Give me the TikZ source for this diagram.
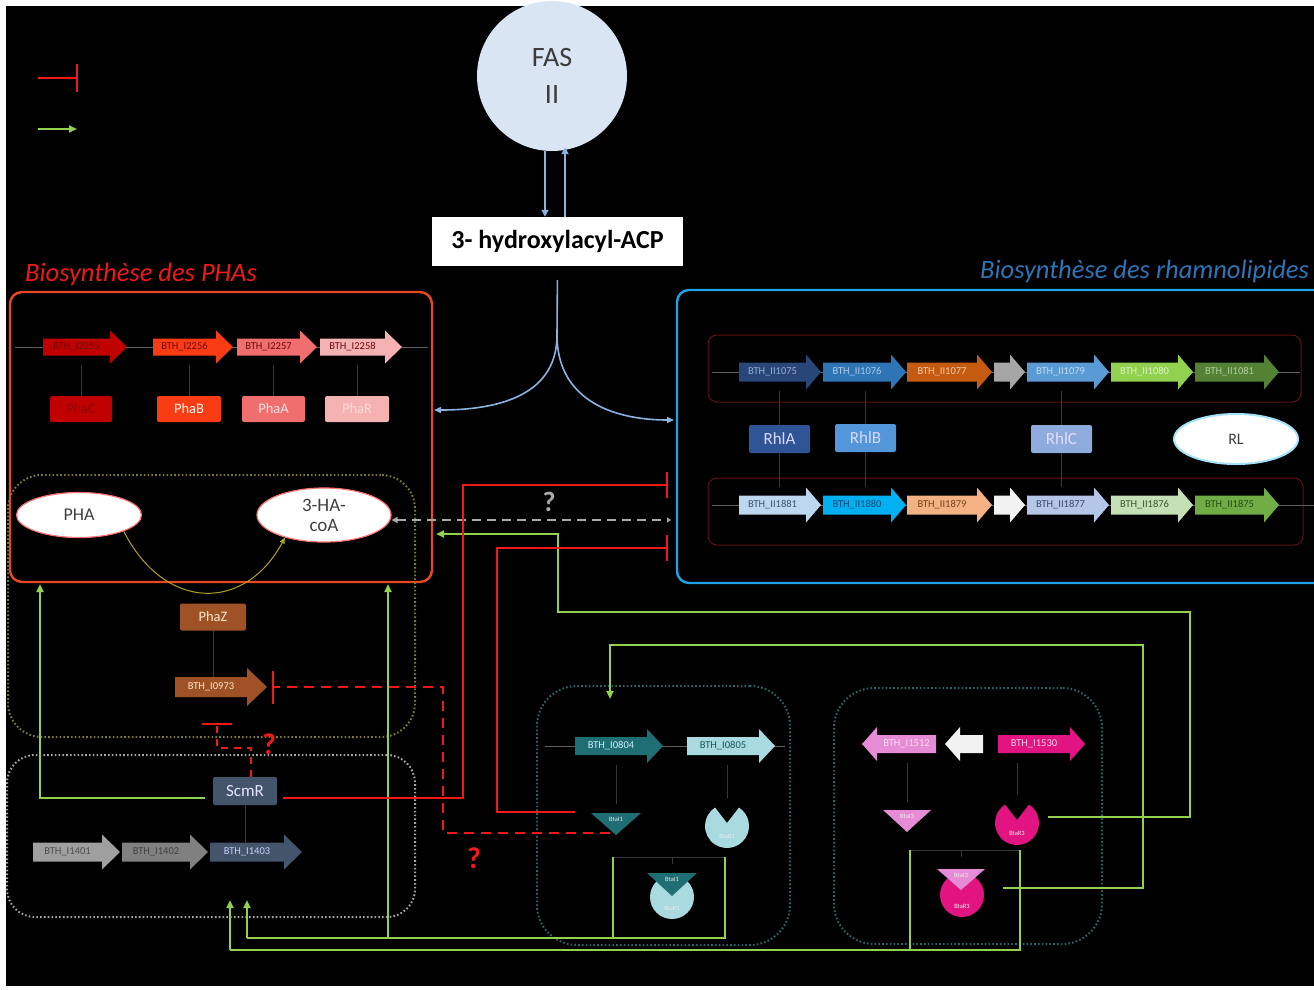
\documentclass[tikz,border=0pt]{standalone}
\usepackage{fontspec}
\setmainfont{Carlito}
\usetikzlibrary{arrows.meta,shapes.geometric}

% palette
\definecolor{lgreen}{RGB}{146,208,80}
\definecolor{rred}{RGB}{240,25,25}
\definecolor{phaorange}{RGB}{232,72,32}
\definecolor{rhlblue}{RGB}{30,162,228}
\definecolor{fasblue}{RGB}{218,229,243}
\definecolor{fastext}{RGB}{60,60,60}
\definecolor{fasarrow}{RGB}{140,178,225}
\definecolor{olivedot}{RGB}{125,120,60}
\definecolor{olivearc}{RGB}{175,160,40}
\definecolor{graydot}{RGB}{165,165,165}
\definecolor{tealdot}{RGB}{45,100,105}
\definecolor{operonred}{RGB}{95,18,18}
\definecolor{axisgray}{RGB}{95,95,95}
\definecolor{qgray}{RGB}{170,170,170}
\definecolor{phaC}{RGB}{192,0,0}
\definecolor{phaB}{RGB}{250,60,20}
\definecolor{phaA}{RGB}{240,110,110}
\definecolor{phaR}{RGB}{245,178,178}
\definecolor{phaTxt}{RGB}{110,10,10}
\definecolor{brownZ}{RGB}{158,82,38}
\definecolor{slate}{RGB}{68,84,106}
\definecolor{teal}{RGB}{31,110,115}
\definecolor{lcyan}{RGB}{168,218,224}
\definecolor{orchid}{RGB}{230,140,214}
\definecolor{magenta}{RGB}{226,20,130}
% rhamnolipid operon colours
\definecolor{cT1}{RGB}{40,70,120}   \definecolor{xT1}{RGB}{150,175,210}
\definecolor{cT2}{RGB}{46,117,182}  \definecolor{xT2}{RGB}{175,205,235}
\definecolor{cT3}{RGB}{197,90,17}   \definecolor{xT3}{RGB}{245,205,165}
\definecolor{cT4}{RGB}{166,166,166}
\definecolor{cT5}{RGB}{91,155,213}  \definecolor{xT5}{RGB}{195,220,242}
\definecolor{cT6}{RGB}{146,208,80}  \definecolor{xT6}{RGB}{220,242,195}
\definecolor{cT7}{RGB}{84,130,53}   \definecolor{xT7}{RGB}{175,205,155}
\definecolor{cB1}{RGB}{189,215,238} \definecolor{xB1}{RGB}{60,80,110}
\definecolor{cB2}{RGB}{0,176,240}   \definecolor{xB2}{RGB}{20,70,120}
\definecolor{cB3}{RGB}{244,177,131} \definecolor{xB3}{RGB}{115,65,25}
\definecolor{cB4}{RGB}{242,242,242}
\definecolor{cB5}{RGB}{180,199,231} \definecolor{xB5}{RGB}{60,70,100}
\definecolor{cB6}{RGB}{197,224,180} \definecolor{xB6}{RGB}{60,85,50}
\definecolor{cB7}{RGB}{112,173,71}  \definecolor{xB7}{RGB}{40,75,20}
\definecolor{rhlA}{RGB}{47,85,151}
\definecolor{rhlB}{RGB}{84,150,218}
\definecolor{rhlC}{RGB}{143,170,220}
\definecolor{titleblue}{RGB}{46,117,182}

\newcommand{\gBody}{9}
\newcommand{\gHead}{17}
\newcommand{\gTip}{15}

% gene drawn as a right-pointing block arrow: name, x1, x2, y, fill, text colour, label
\newcommand{\gene}[7]{%
  \fill[fill=#5] (#2,#4-\gBody) -- ({#3-\gTip},#4-\gBody) -- ({#3-\gTip},#4-\gHead) -- (#3,#4)
    -- ({#3-\gTip},#4+\gHead) -- ({#3-\gTip},#4+\gBody) -- (#2,#4+\gBody) -- cycle;
  \node[genetxt, text=#6, minimum width={#3-\gTip-#2}, minimum height={2*\gBody}]
    (#1) at ({(#2+#3-\gTip)/2},#4) {#7};}
% gene pointing left: name, tip x, tail x, y, fill, text colour, label
\newcommand{\generev}[7]{%
  \fill[fill=#5] (#3,#4-\gBody) -- ({#2+\gTip},#4-\gBody) -- ({#2+\gTip},#4-\gHead) -- (#2,#4)
    -- ({#2+\gTip},#4+\gHead) -- ({#2+\gTip},#4+\gBody) -- (#3,#4+\gBody) -- cycle;
  \node[genetxt, text=#6, minimum width={#3-\gTip-#2}, minimum height={2*\gBody}]
    (#1) at ({(#2+\gTip+#3)/2},#4) {#7};}
% autoinducer synthase (inverted triangle): name, cx, top y, half width, height, fill, label
\newcommand{\synth}[7]{%
  \fill[fill=#6] ({#2-#4},#3) -- ({#2+#4},#3) -- (#2,#3+#5) -- cycle;
  \node[tinytxt] (#1) at (#2,#3+6) {#7};}
% receptor (notched disc): name, cx, cy, fill, label
\newcommand{\recep}[5]{%
  \fill[fill=#4] (#2,#3) ++(-57:22) arc[start angle=-57, end angle=237, radius=22] -- (#2,#3-3) -- cycle;
  \node[tinytxt] (#1) at (#2,#3+10) {#5};}

\tikzset{
  genetxt/.style={inner sep=0pt, outer sep=0pt, font=\fontsize{10.5}{11}\selectfont},
  tinytxt/.style={inner sep=0pt, text=white!85!gray, font=\fontsize{6.5}{7}\selectfont},
  prot/.style={rounded corners=2pt, inner sep=0pt, minimum height=26pt, font=\fontsize{14.5}{15}\selectfont},
  frame/.style={line width=2.4pt, rounded corners=12pt, inner sep=0pt},
  dotbox/.style={line width=2pt, dash pattern=on 1.6pt off 2.2pt, inner sep=0pt},
  operon/.style={draw=operonred, line width=1pt, rounded corners=9pt, inner sep=0pt},
  axis/.style={draw=axisgray, line width=0.6pt},
  link/.style={draw=gray!45!black, line width=0.6pt},
  metab/.style={ellipse, fill=white, inner sep=0pt, text=black!75, font=\fontsize{18}{20}\selectfont},
  activ/.style={draw=lgreen, line width=2.2pt, -{Triangle[length=8pt,width=7pt]}},
  gline/.style={draw=lgreen, line width=2.2pt},
  inhib/.style={draw=rred, line width=2.4pt, -{Bar[width=26pt,line width=2.4pt]}},
  rdash/.style={dash pattern=on 10pt off 7pt},
  fasarr/.style={draw=fasarrow, line width=1.8pt, -{Triangle[length=7pt,width=7pt]}},
  qmark/.style={inner sep=0pt, font=\bfseries\fontsize{30}{30}\selectfont},
  title/.style={anchor=base west, inner sep=0pt, font=\itshape\fontsize{26.5}{28}\selectfont}
}

\begin{document}
\begin{tikzpicture}[x=1pt,y=-1pt]
\clip (0,0) rectangle (1314,990);
\fill[white] (0,0) rectangle (1314,990);
\fill[black] (6,6) rectangle (1314,986);

% ---------- legend ----------
\coordinate (legI1) at (38,78);  \coordinate (legI2) at (78,78);
\coordinate (legA1) at (38,129); \coordinate (legA2) at (77,129);
\draw[inhib, -{Bar[width=28pt,line width=2.4pt]}] (legI1) -- (legI2);
\draw[activ] (legA1) -- (legA2);

% ---------- FAS II and the shared precursor ----------
\node[circle, fill=fasblue, minimum size=150pt, inner sep=0pt, align=center, text=fastext,
      font=\fontsize{28}{37}\selectfont] (fas) at (552,76) {FAS\\II};
\node[fill=white, minimum width=251pt, minimum height=49pt, inner sep=0pt,
      font=\bfseries\fontsize{26}{28}\selectfont] (acp) at (557.5,241.5) {3- hydroxylacyl-ACP};
\coordinate (fasL) at ([xshift=-7pt]fas.south);
\coordinate (fasR) at ([xshift=13pt]fas.south);
\draw[fasarr] (fasL) -- (fasL |- acp.north);
\draw[fasarr, shorten >=-4pt] (fasR |- acp.north) -- (fasR);

% ---------- pathway frames ----------
\node[frame, draw=phaorange, minimum width=422pt, minimum height=290pt] (phabox) at (221,437) {};
\node[frame, draw=rhlblue, minimum width=663pt, minimum height=293pt] (rhlbox) at (1008.5,436.5) {};
\node[title, text=rred] (phatitle) at (25,281) {Biosynthèse des PHAs};
\node[title, text=titleblue] (rhltitle) at (980,278) {Biosynthèse des rhamnolipides};

% precursor split towards both pathways
\coordinate (split) at (557,335);
\coordinate (phaIn) at (434,410);
\coordinate (rhlIn) at (674,420);
\draw[draw=fasarrow, line width=1.6pt, shorten <=14pt] (acp.south) -- (split);
\draw[draw=fasarrow, line width=1.6pt, -{Triangle[length=7pt,width=6pt]}]
  (split) .. controls (557,392) and (505,410) .. (phaIn);
\draw[draw=fasarrow, line width=1.6pt, -{Triangle[length=7pt,width=6pt]}]
  (split) .. controls (557,398) and (610,420) .. (rhlIn);

% ---------- PHA operon ----------
\coordinate (phaAxL) at (15,347); \coordinate (phaAxR) at (428,347);
\draw[axis] (phaAxL) -- (phaAxR);
\renewcommand{\gBody}{8.5}\renewcommand{\gHead}{16.5}\renewcommand{\gTip}{17}
\gene{gC}{43}{127}{347}{phaC}{phaTxt}{BTH\_I2255}
\gene{gB}{153}{233}{347}{phaB}{phaTxt}{BTH\_I2256}
\gene{gA}{237}{317}{347}{phaA}{phaTxt}{BTH\_I2257}
\gene{gR}{320}{402}{347}{phaR}{phaTxt}{BTH\_I2258}
\node[prot, fill=phaC, text=phaTxt!80!red, minimum width=62pt] (pC) at (81,409) {PhaC};
\node[prot, fill=phaB, text=white!92!orange, minimum width=64pt] (pB) at (189,409) {PhaB};
\node[prot, fill=phaA, text=white!90!red, minimum width=63pt] (pA) at (273.5,409) {PhaA};
\node[prot, fill=phaR, text=white!85!red, minimum width=64pt] (pR) at (357,409) {PhaR};
\foreach \p/\g in {pC/gC, pB/gB, pA/gA, pR/gR}
  \draw[link] (\p.north |- \g.south) ++(0,9) -- (\p.north);

% ---------- PHA cycle ----------
\node[dotbox, draw=olivedot, rounded corners=34pt, minimum width=407pt, minimum height=262pt] (degbox) at (211.5,606) {};
\node[metab, draw=red!55!white, line width=1.2pt, minimum width=125pt, minimum height=45pt] (pha) at (79,515) {PHA};
\node[metab, draw=red!55!white, line width=1.2pt, minimum width=134pt, minimum height=54pt, align=center,
      font=\fontsize{19}{20}\selectfont] (hacoa) at (324,515) {3-HA-\\coA};
\draw[draw=olivearc, line width=1pt, -{Triangle[length=6pt,width=5pt]}]
  (pha.-20) .. controls (165,612) and (245,612) .. (hacoa.-150);
\node[prot, fill=brownZ, text=white!80!orange, minimum width=66pt, minimum height=27pt] (phaz) at (213,617) {PhaZ};
\renewcommand{\gBody}{10}\renewcommand{\gHead}{19}\renewcommand{\gTip}{20}
\gene{g0973}{175}{267}{687}{brownZ}{white!80!orange}{BTH\_I0973}
\draw[link] (phaz.south) -- (phaz.south |- g0973.north);

% ---------- ScmR locus ----------
\node[dotbox, draw=graydot, rounded corners=28pt, minimum width=408pt, minimum height=162pt] (scmbox) at (211,836) {};
\node[prot, fill=slate, text=white!90!blue, minimum width=64pt, minimum height=28pt,
      font=\fontsize{17}{18}\selectfont] (scmr) at (245,791) {ScmR};
\renewcommand{\gBody}{9.5}\renewcommand{\gHead}{17.5}\renewcommand{\gTip}{18}
\gene{g1401}{33}{120}{852}{gray!75!white}{black!70}{BTH\_I1401}
\gene{g1402}{122}{208}{852}{gray}{black!75}{BTH\_I1402}
\gene{g1403}{210}{302}{852}{slate}{white!80!blue}{BTH\_I1403}
\draw[link] (scmr.south) -- (scmr.south |- g1403.north);

% ---------- rhamnolipid operons ----------
\node[operon, minimum width=593pt, minimum height=67pt] (opTop) at (1004.5,368.5) {};
\node[operon, minimum width=595pt, minimum height=67pt] (opBot) at (1005.5,511.5) {};
\coordinate (topAxL) at (712,372); \coordinate (topAxR) at (1300,372);
\coordinate (botAxL) at (712,505); \coordinate (botAxR) at (1314,505);
\draw[axis] (topAxL) -- (topAxR);
\draw[axis] (botAxL) -- (botAxR);
\renewcommand{\gBody}{9.5}\renewcommand{\gHead}{17.5}\renewcommand{\gTip}{15}
\gene{t1}{739}{821}{372}{cT1}{xT1}{BTH\_II1075}
\gene{t2}{823}{906}{372}{cT2}{xT2}{BTH\_II1076}
\gene{t3}{907}{992}{372}{cT3}{xT3}{BTH\_II1077}
\gene{t4}{994}{1025}{372}{cT4}{black}{}
\gene{t5}{1027}{1109}{372}{cT5}{xT5}{BTH\_II1079}
\gene{t6}{1111}{1193}{372}{cT6}{xT6}{BTH\_II1080}
\gene{t7}{1195}{1279}{372}{cT7}{xT7}{BTH\_II1081}
\gene{b1}{739}{821}{505}{cB1}{xB1}{BTH\_II1881}
\gene{b2}{823}{906}{505}{cB2}{xB2}{BTH\_II1880}
\gene{b3}{907}{992}{505}{cB3}{xB3}{BTH\_II1879}
\gene{b4}{994}{1025}{505}{cB4}{black}{}
\gene{b5}{1027}{1109}{505}{cB5}{xB5}{BTH\_II1877}
\gene{b6}{1111}{1193}{505}{cB6}{xB6}{BTH\_II1876}
\gene{b7}{1195}{1279}{505}{cB7}{xB7}{BTH\_II1875}

\node[prot, fill=rhlA, text=white!85!blue, minimum width=61pt, minimum height=28pt,
      font=\fontsize{17}{18}\selectfont] (rhla) at (779.5,439) {RhlA};
\node[prot, fill=rhlB, text=white!85!blue, minimum width=61pt, minimum height=28pt,
      font=\fontsize{17}{18}\selectfont] (rhlb) at (865.5,438) {RhlB};
\node[prot, fill=rhlC, text=white!88!blue, minimum width=61pt, minimum height=28pt,
      font=\fontsize{17}{18}\selectfont] (rhlc) at (1061.5,439) {RhlC};
\node[metab, draw=cyan!35!white, line width=2pt, minimum width=124pt, minimum height=50pt,
      font=\fontsize{16}{17}\selectfont] (rl) at (1236,439) {RL};
\foreach \p/\u/\d in {rhla/t1/b1, rhlb/t2/b2, rhlc/t5/b5}{
  \draw[link] (\p.north |- \u.south) ++(0,9) -- (\p.north);
  \draw[link] (\p.south) -- ([yshift=9pt]\p.south |- \d.north);
}

% exchange of 3-HA-coA with the rhamnolipid pathway (unresolved)
\coordinate (qEnd) at (671,520);
\draw[draw=qgray, line width=1.8pt, dash pattern=on 9pt off 6pt,
      {Triangle[length=6pt,width=6pt]}-{Triangle[length=4pt,width=5pt]}]
  (qEnd -| hacoa.east) -- (qEnd);
\node[qmark, text=qgray, font=\bfseries\fontsize{28}{28}\selectfont] (qmid) at (549,502) {?};

% ---------- Bta1 quorum-sensing system ----------
\node[dotbox, draw=tealdot, rounded corners=40pt, minimum width=253pt, minimum height=259pt] (bta1box) at (663.5,815.5) {};
\coordinate (ax1L) at (545,746); \coordinate (ax1R) at (785,746);
\draw[axis] (ax1L) -- (ax1R);
\renewcommand{\gBody}{9}\renewcommand{\gHead}{17}\renewcommand{\gTip}{16}
\gene{g0804}{575}{663}{746}{teal}{white!80!cyan}{BTH\_I0804}
\gene{g0805}{687}{775}{746}{lcyan}{teal!80!black}{BTH\_I0805}
\synth{bI1}{616}{813}{25}{22}{teal}{BtaI1}
\recep{bR1}{727}{826}{lcyan}{BtaR1}
\draw[link] (bI1 |- g0804.south) ++(0,10) -- ([yshift=2pt]bI1 |- 0,806);
\draw[link] (bR1 |- g0805.south) ++(0,10) -- ([yshift=2pt]bR1 |- 0,800);
\fill[lcyan] (672,897) circle[radius=22];
\synth{cI1}{672}{873}{25}{23}{teal}{BtaI1}
\node[tinytxt] (cR1) at (672,908) {BtaR1};

% ---------- Bta3 quorum-sensing system ----------
\node[dotbox, draw=tealdot, rounded corners=40pt, minimum width=268pt, minimum height=256pt] (bta3box) at (968,816) {};
\renewcommand{\gBody}{9}\renewcommand{\gHead}{17}\renewcommand{\gTip}{15}
\generev{g1512}{862}{936}{744}{orchid}{white!85!magenta}{BTH\_I1512}
\generev{gmid}{945}{983}{744}{white!90!gray}{black}{}
\gene{g1530}{998}{1085}{744}{magenta}{white!80!magenta}{BTH\_I1530}
\synth{bI3}{907}{810}{24}{22}{orchid}{BtaI3}
\recep{bR3}{1017}{823}{magenta}{BtaR3}
\draw[link] (bI3 |- g1512.south) ++(0,10) -- ([yshift=2pt]bI3 |- 0,804);
\draw[link] (bR3 |- g1530.south) ++(0,10) -- ([yshift=2pt]bR3 |- 0,797);
\fill[magenta] (962,895) circle[radius=22];
\synth{cI3}{961}{869}{24}{21}{orchid}{BtaI3}
\node[tinytxt] (cR3) at (962,906) {BtaR3};

% complex formation brackets
\coordinate (m1L) at (613,857); \coordinate (m1R) at (725,857);
\coordinate (m3L) at (910,850); \coordinate (m3R) at (1020,850);
\draw[link] (m1L) -- (m1R);
\draw[link] (cI1 |- m1L) -- ([yshift=-7pt]cI1 |- m1L);
\draw[link] (m3L) -- (m3R);
\draw[link] (cI3 |- m3L) -- ([yshift=-7pt]cI3 |- m3L);

% ---------- activations ----------
\coordinate (scmrL) at ([yshift=-7pt]scmr.west);
\coordinate (scmrR) at ([yshift=-7pt]scmr.east);
\coordinate (gPhaL) at (40,584);
\draw[activ, shorten <=8pt] (scmrL) -| (gPhaL);

\coordinate (bus1L) at (247,938); \coordinate (bus1R) at (725,938);
\coordinate (a247) at (247,900);
\coordinate (tap388) at (388,938); \coordinate (gPhaR) at (388,584);
\draw[gline] (m1R) -- (bus1R) -- (bus1L);
\draw[gline] (m1L) -- (m1L |- bus1R);
\draw[activ] (bus1L) -- (a247);
\draw[activ] (tap388) -- (gPhaR);

\coordinate (bus3L) at (230,950); \coordinate (bus3R) at (1020,950);
\coordinate (a230) at (230,900);
\draw[gline] (m3R) -- (bus3R) -- (bus3L);
\draw[gline] (m3L) -- (m3L |- bus3R);
\draw[activ] (bus3L) -- (a230);

\coordinate (g4a) at (1048,817); \coordinate (g4b) at (1190,612);
\coordinate (g4c) at (558,534);  \coordinate (g4end) at (436,534);
\draw[activ] (g4a) -| (g4b) -| (g4c) -- (g4end);

\coordinate (g5a) at (1003,888); \coordinate (g5b) at (1143,645);
\coordinate (g5end) at (610,699);
\draw[activ] (g5a) -| (g5b) -| (g5end);

% ---------- repressions ----------
\coordinate (rA) at (463,485); \coordinate (rAend) at (668,485);
\draw[inhib, shorten <=6pt] (scmrR) -| (rA) -- (rAend);
\coordinate (i1a) at (575,812); \coordinate (rB) at (497,548); \coordinate (rBend) at (668,548);
\draw[inhib] (i1a) -| (rB) -- (rBend);
\coordinate (i1b) at (610,833); \coordinate (rC) at (443,687); \coordinate (rCend) at (272,687);
\draw[inhib, rdash, -{Bar[width=33pt,line width=2.4pt]}] (i1b) -| (rC) -- (rCend);
\coordinate (scmrT) at (251,777); \coordinate (rD) at (217,748); \coordinate (rDend) at (217,723);
\draw[inhib, dash pattern=on 7pt off 6pt, line width=2pt, -{Bar[width=30pt,line width=2.4pt]}]
  (scmrT) |- (rD) -- (rDend);
\node[qmark, text=rred] (qPhaZ) at (269,744) {?};
\node[qmark, text=rred] (qBta) at (474,858) {?};

\end{tikzpicture}
\end{document}
